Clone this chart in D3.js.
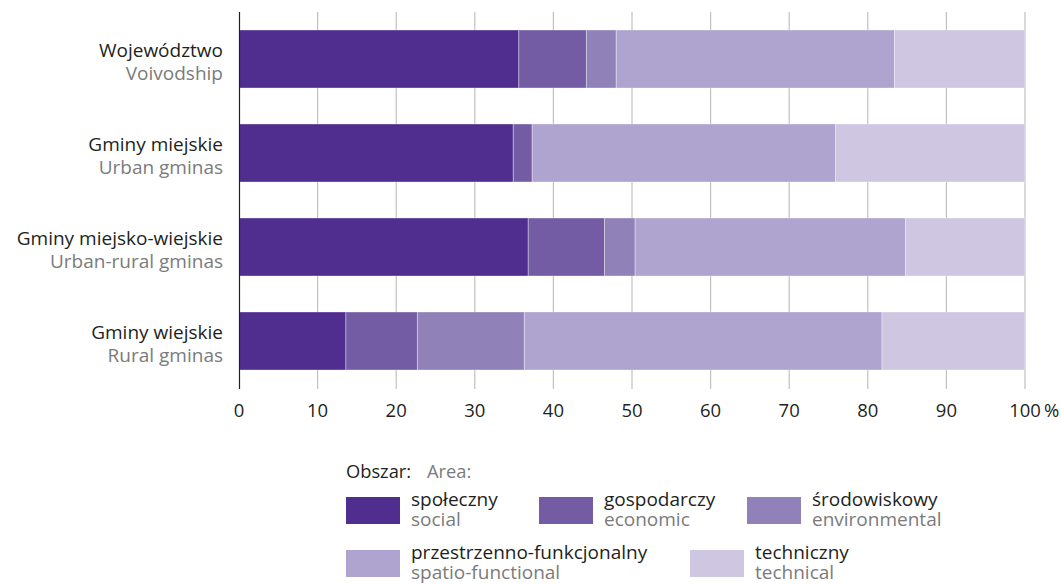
<!DOCTYPE html>
<html><head><meta charset="utf-8">
<script src="https://cdn.jsdelivr.net/npm/d3@7"></script>
<style>body{margin:0;background:#fff;} svg{display:block;font-family:"Open Sans",sans-serif;}</style>
</head><body><svg id="c" width="1061" height="584"></svg>
<script>
const categoriesPL = ["Województwo","Gminy miejskie","Gminy miejsko-wiejskie","Gminy wiejskie"];
const categoriesEN = ["Voivodship","Urban gminas","Urban-rural gminas","Rural gminas"];
const seriesPL = ["społeczny","gospodarczy","środowiskowy","przestrzenno-funkcjonalny","techniczny"];
const seriesEN = ["social","economic","environmental","spatio-functional","technical"];
const social        = [35.6, 34.9, 36.8, 13.6];
const economic      = [8.6, 2.4, 9.7, 9.1];
const environmental = [3.8, 0.0, 3.9, 13.6];
const spatial       = [35.4, 38.6, 34.4, 45.5];
const technical     = [16.6, 24.1, 15.2, 18.2];
const tickValues = [0,10,20,30,40,50,60,70,80,90,100];
const colors = ["#4f2e8f","#745ca4","#9181b9","#afa3cf","#cfc6e1"];

const svg = d3.select("#c");
const x = d3.scaleLinear().domain([0,100]).range([239,1025]);
const y = d3.scaleBand().domain(categoriesPL).range([12,388]).paddingInner(0.383).paddingOuter(0.1915);

const seriesVals = [social,economic,environmental,spatial,technical];
const rows = categoriesPL.map((c,i)=>{const o={cat:c}; seriesPL.forEach((s,j)=>o[s]=seriesVals[j][i]); return o;});
const stack = d3.stack().keys(seriesPL)(rows);

// gridlines
svg.append("g").selectAll("line").data(tickValues.slice(1)).join("line")
  .attr("x1",d=>x(d)).attr("x2",d=>x(d)).attr("y1",12).attr("y2",389)
  .attr("stroke","#c0c0c0").attr("stroke-width",1.2);

// bars
stack.forEach((layer,j)=>{
  svg.append("g").selectAll("rect").data(layer).join("rect")
    .attr("x",d=>x(d[0])).attr("width",d=>Math.max(0,x(d[1])-x(d[0])))
    .attr("y",(d,i)=>y(categoriesPL[i])).attr("height",y.bandwidth())
    .attr("fill",colors[j]).attr("stroke","rgba(255,255,255,0.35)").attr("stroke-width",1);
});

// axis line
svg.append("line").attr("x1",239.5).attr("x2",239.5).attr("y1",12).attr("y2",389).attr("stroke","#231f20").attr("stroke-width",1.2);

// x tick labels
const xl = svg.append("g");
xl.selectAll("text").data(tickValues).join("text")
  .attr("x",d=>x(d)).attr("y",417).attr("text-anchor","middle")
  .attr("font-size",18.5).attr("fill","#231f20").text(d=>d);
xl.append("text").attr("x",x(100)+19).attr("y",417).attr("font-size",18.5).attr("fill","#231f20").text("%");

// category labels
const cl = svg.append("g");
categoriesPL.forEach((c,i)=>{
  const cy = y(c)+y.bandwidth()/2;
  cl.append("text").attr("x",223).attr("y",cy-2).attr("text-anchor","end").attr("font-size",19).attr("fill","#231f20").text(c);
  cl.append("text").attr("x",223).attr("y",cy+21).attr("text-anchor","end").attr("font-size",19).attr("fill","#7b7b7b").text(categoriesEN[i]);
});

// legend
const lg = svg.append("g");
lg.append("text").attr("x",346).attr("y",478).attr("font-size",18.3).attr("fill","#231f20").text("Obszar:");
lg.append("text").attr("x",427).attr("y",478).attr("font-size",18.3).attr("fill","#7b7b7b").text("Area:");
const pos = [[346,497],[539,497],[747,497],[346,550],[690,550]];
seriesPL.forEach((s,j)=>{
  const [px,py]=pos[j];
  lg.append("rect").attr("x",px).attr("y",py).attr("width",54).attr("height",27).attr("fill",colors[j]);
  lg.append("text").attr("x",px+65).attr("y",py+9).attr("font-size",19).attr("fill","#231f20").text(s);
  lg.append("text").attr("x",px+65).attr("y",py+29).attr("font-size",19).attr("fill","#7b7b7b").text(seriesEN[j]);
});
</script></body></html>
